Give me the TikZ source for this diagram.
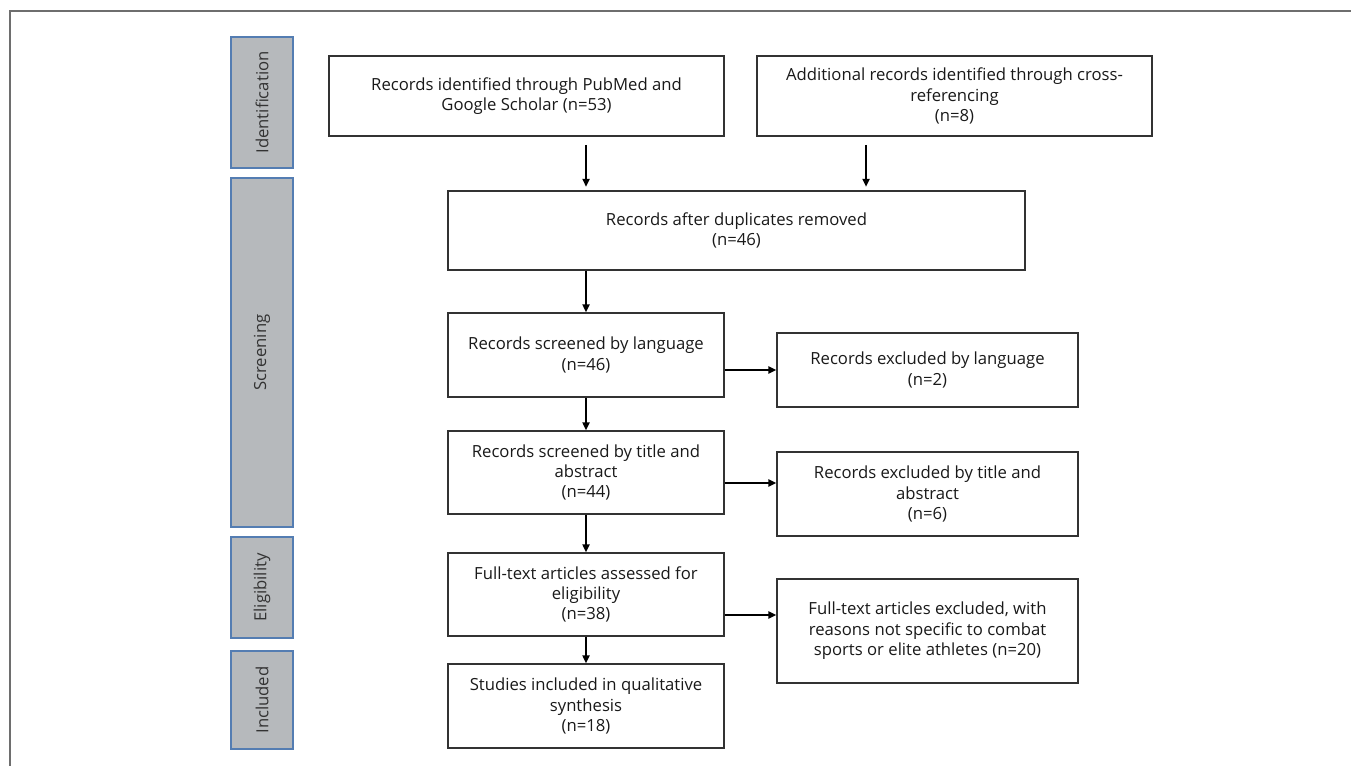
\documentclass[tikz,border=0pt]{standalone}
\usepackage{fontspec}
\setmainfont{Open Sans}
\usetikzlibrary{positioning, arrows.meta, calc}
\definecolor{phasefill}{RGB}{182,185,188}
\definecolor{phaseline}{RGB}{84,125,178}
\definecolor{boxline}{RGB}{50,50,50}
\definecolor{framegray}{RGB}{110,110,110}
\tikzset{box/.style={draw=boxline, line width=0.85pt, align=center, inner sep=0pt, text=black!90, font=\fontsize{9.5}{11.6}\selectfont},
phase/.style={draw=phaseline, fill=phasefill, line width=0.7pt, rotate=90, inner sep=0pt, minimum height=1.24cm, text=black!80, font=\fontsize{9.5}{11.6}\selectfont},
flow/.style={-{Triangle[length=4.5pt, width=4pt]}, line width=1.1pt}}
\begin{document}
\begin{tikzpicture}[x=0.02cm, y=-0.02cm]
  \useasboundingbox (0,0) rectangle (1351,766);
  \draw[framegray, line width=1.1pt] (10,766) -- (10,11) -- (1351,11);
  \node[phase, minimum width=2.62cm] (idlab) at (262,102.5) {Identification};
  \node[phase, minimum width=6.98cm] (scrlab) at (262,352.5) {Screening};
  \node[phase, minimum width=2.02cm] (elilab) at (262,587.5) {Eligibility};
  \node[phase, minimum width=1.96cm] (inclab) at (262,700) {Included};
  \node[box, minimum width=7.9cm, minimum height=1.6cm] (src1) at (526.5,96) {Records identified through PubMed and\\Google Scholar (n=53)};
  \node[box, minimum width=7.9cm, minimum height=1.6cm] (src2) at (954.5,96) {Additional records identified through cross-\\referencing\\(n=8)};
  \node[box, minimum width=11.54cm, minimum height=1.58cm] (dup) at (736.5,230.5) {Records after duplicates removed\\(n=46)};
  \node[box, minimum width=5.52cm, minimum height=1.68cm] (scr1) at (586,355) {Records screened by language\\(n=46)};
  \node[box, minimum width=5.52cm, minimum height=1.66cm] (scr2) at (586,472.5) {Records screened by title and\\abstract\\(n=44)};
  \node[box, minimum width=5.52cm, minimum height=1.66cm] (full) at (586,594.5) {Full-text articles assessed for\\eligibility\\(n=38)};
  \node[box, minimum width=5.52cm, minimum height=1.68cm] (incl) at (586,706) {Studies included in qualitative\\synthesis\\(n=18)};
  \node[box, minimum width=6.02cm, minimum height=1.48cm] (ex1) at (927.5,370) {Records excluded by language\\(n=2)};
  \node[box, minimum width=6.02cm, minimum height=1.68cm] (ex2) at (927.5,494) {Records excluded by title and\\abstract\\(n=6)};
  \node[box, minimum width=6.02cm, minimum height=2.08cm] (ex3) at (927.5,631) {Full-text articles excluded, with\\reasons not specific to combat\\sports or elite athletes (n=20)};
  \coordinate (a1) at (586,145);
  \coordinate (a2) at (866,145);
  \draw[flow, shorten >=2pt] (a1) -- (a1 |- dup.north);
  \draw[flow, shorten >=2pt] (a2) -- (a2 |- dup.north);
  \draw[flow] (dup.south -| scr1.north) -- (scr1);
  \draw[flow] (scr1) -- (scr2);
  \draw[flow] (scr2) -- (full);
  \draw[flow] (full) -- (incl);
  \draw[flow] (scr1.east |- ex1.west) -- (ex1.west);
  \draw[flow] (scr2.east |- 0,483) -- (ex2.west |- 0,483);
  \draw[flow] (full.east |- 0,615) -- (ex3.west |- 0,615);
\end{tikzpicture}
\end{document}
